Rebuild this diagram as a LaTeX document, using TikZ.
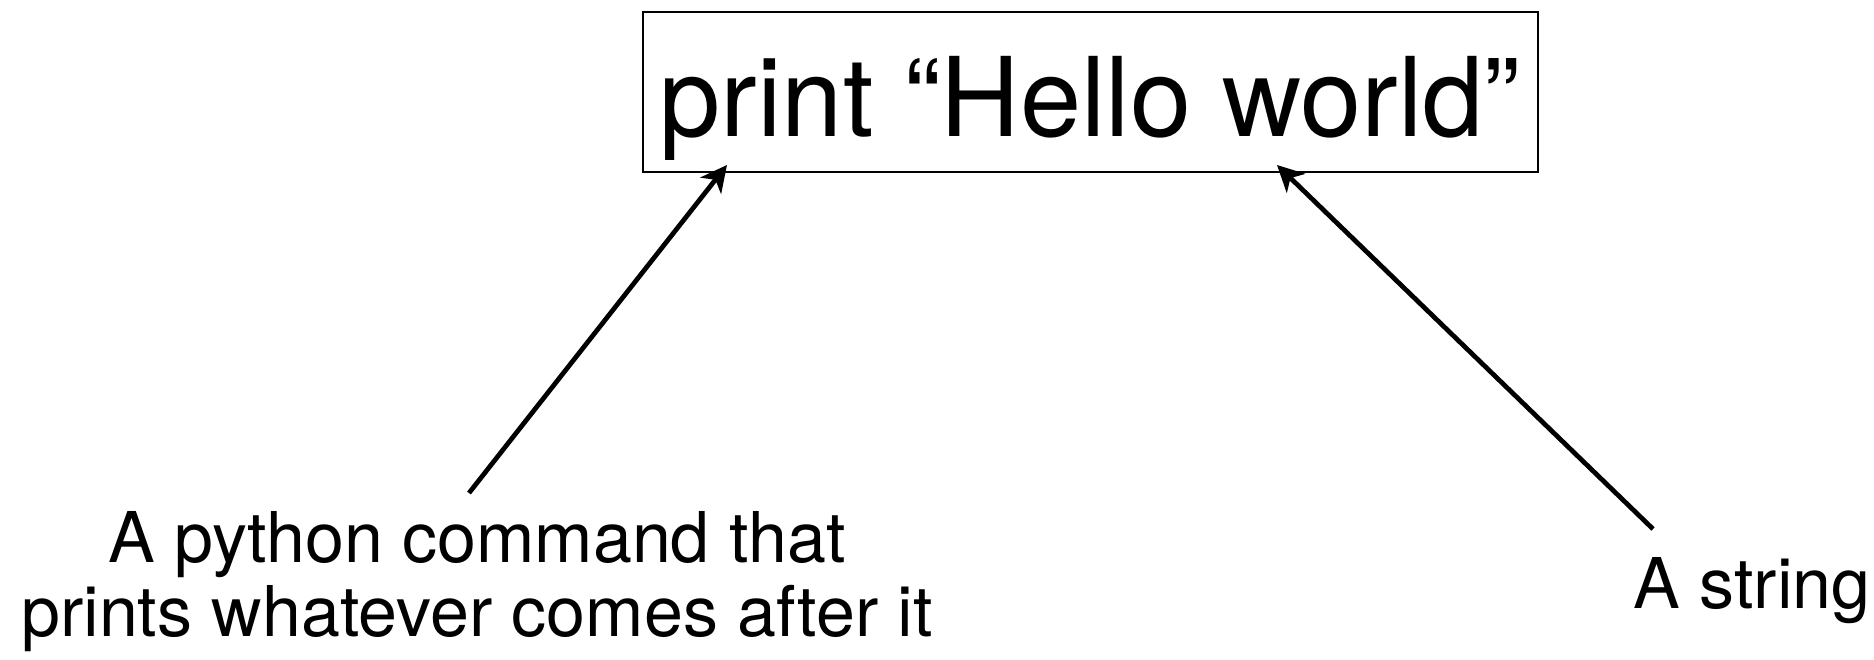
\documentclass[tikz,border=0pt]{standalone}
\usepackage{fontspec}
\setmainfont{TeX Gyre Heros}
\usetikzlibrary{arrows.meta}
\begin{document}
\begin{tikzpicture}[x=0.4pt,y=-0.4pt,
  codebox/.style={draw,line width=0.8pt,minimum width=358pt,minimum height=64pt,inner sep=0pt},
  bigtext/.style={font=\fontsize{44}{52}\selectfont,inner sep=0pt},
  note/.style={font=\fontsize{28}{29.6}\selectfont,inner sep=0pt,align=center},
  arr/.style={line width=1.9pt,-{Stealth[length=10.5pt,width=10.5pt,inset=3pt]}}]
  \useasboundingbox (0,0) rectangle (1874,660);
  % the command box
  \node[codebox] (cmd) at (1090.5,92) {};
  \node[bigtext,anchor=base] (code) at (1090,136) {print “Hello world”};
  % explanations
  \node[note,anchor=base] (cmdnote) at (477,636) {A python command that\\prints whatever comes after it};
  \node[note,anchor=base west] (strnote) at (1633,608) {A string};
  % arrows
  \coordinate (a1) at (469,493);
  \coordinate (h1) at (727,165);
  \coordinate (a2) at (1653,529);
  \coordinate (h2) at (1277,165);
  \draw[arr] (a1) -- (h1);
  \draw[arr] (a2) -- (h2);
\end{tikzpicture}
\end{document}
